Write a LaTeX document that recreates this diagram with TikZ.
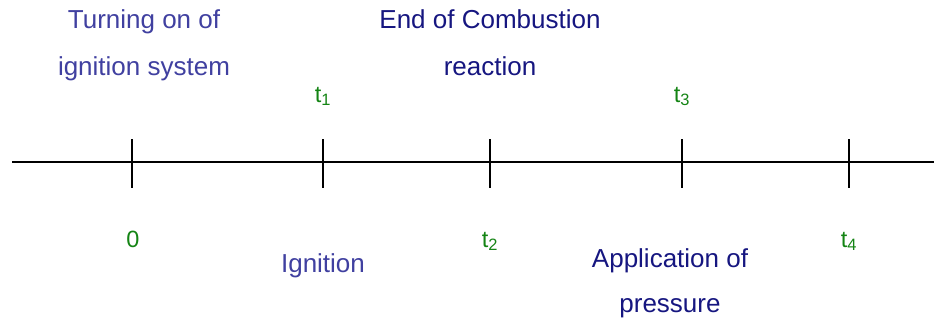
\documentclass[tikz,border=0pt]{standalone}
\usepackage{fontspec}
\setmainfont{Liberation Sans}
\usetikzlibrary{positioning}

\definecolor{eventblue}{RGB}{64,64,160}
\definecolor{eventnavy}{RGB}{22,22,128}
\definecolor{timegreen}{RGB}{20,132,20}

\begin{document}
\begin{tikzpicture}[x=1pt,y=-1pt,
  axis/.style={line width=1.6pt},
  tick/.style={line width=1.6pt},
  tlabel/.style={anchor=base,inner sep=0pt,text=timegreen,font=\fontsize{23.5}{27}\selectfont},
  event/.style={anchor=base,inner sep=0pt,align=center,font=\fontsize{26}{47}\selectfont}]

\useasboundingbox (0,0) rectangle (934,322);

% --- time axis ---------------------------------------------------------
\coordinate (axisL) at (12,162);
\coordinate (axisR) at (934,162);
\draw[axis] (axisL) -- (axisR);

% --- ticks -------------------------------------------------------------
\foreach \name/\x in {T0/132,T1/323,T2/490,T3/682,T4/849}{
  \coordinate (\name top) at (\x,139);
  \coordinate (\name bot) at (\x,188);
  \draw[tick] (\name top) -- (\name bot);
}

% --- time labels -------------------------------------------------------
\node[tlabel] (l0) at (133,247) {0};
\node[tlabel] (l1) at (323,102) {t\textsubscript{1}};
\node[tlabel] (l2) at (490,247) {t\textsubscript{2}};
\node[tlabel] (l3) at (682,102) {t\textsubscript{3}};
\node[tlabel] (l4) at (849,247) {t\textsubscript{4}};

% --- events (base = last line) -----------------------------------------
\node[event,text=eventblue] (turnon) at (144,75) {Turning on of\\ignition system};
\node[event,text=eventnavy] (endcomb) at (490,75) {End of Combustion\\reaction};
\node[event,text=eventblue] (ignition) at (323,272) {Ignition};
\node[event,text=eventnavy,font=\fontsize{26}{45}\selectfont] (press) at (670,312) {Application of\\pressure};
\end{tikzpicture}
\end{document}
